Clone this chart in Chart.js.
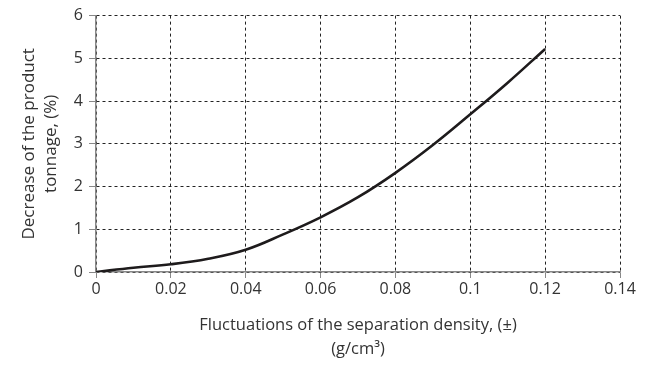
<!DOCTYPE html>
<html>
<head>
<meta charset="utf-8">
<script src="https://cdn.jsdelivr.net/npm/chart.js@4/dist/chart.umd.min.js"></script>
<style>
  html, body { margin: 0; padding: 0; background: #fff; }
  #wrap { width: 650px; height: 365px; }
</style>
</head>
<body>
<div id="wrap"><canvas id="chart" width="650" height="365"></canvas></div>
<script>
// Datos
const densityFluct = [0, 0.01, 0.02, 0.03, 0.04, 0.05, 0.06, 0.07, 0.08, 0.09, 0.1, 0.11, 0.12];
const tonnageDecrease = [0, 0.1, 0.18, 0.31, 0.52, 0.88, 1.28, 1.75, 2.32, 2.97, 3.69, 4.43, 5.22];
const xTicks = [0, 0.02, 0.04, 0.06, 0.08, 0.1, 0.12, 0.14];
const yTicks = [0, 1, 2, 3, 4, 5, 6];

const fontName = '"Open Sans", "Noto Sans", sans-serif';
const textColor = '#333';

const points = densityFluct.map((x, i) => ({ x: x, y: tonnageDecrease[i] }));

new Chart(document.getElementById('chart'), {
    type: 'line',
    data: {
        datasets: [{
            data: points,
            borderColor: '#1e1b1c',
            borderWidth: 2.6,
            pointRadius: 0,
            fill: false,
            tension: 0.4
        }]
    },
    options: {
        responsive: false,
        animation: false,
        layout: { padding: { top: 0, right: 30, bottom: 4, left: 18 } },
        plugins: { legend: { display: false }, tooltip: { enabled: false } },
        scales: {
            x: {
                type: 'linear',
                min: 0,
                max: 0.14,
                afterBuildTicks: (axis) => { axis.ticks = xTicks.map(v => ({ value: v })); },
                afterFit: (axis) => { axis.height = 89; },
                ticks: {
                    color: textColor,
                    font: { family: fontName, size: 16 },
                    padding: 2,
                    maxRotation: 0,
                    callback: (v) => String(v)
                },
                grid: {
                    color: '#222',
                    lineWidth: 1,
                    tickLength: 6,
                    tickColor: '#888',
                    tickBorderDash: []
                },
                border: { color: '#888', width: 1.5, dash: [3, 3] },
                title: {
                    display: true,
                    text: ['Fluctuations of the separation density, (±)', '(g/cm³)'],
                    color: textColor,
                    font: { family: fontName, size: 16.5, lineHeight: 1.45 },
                    padding: { top: 2, bottom: 0 }
                }
            },
            y: {
                min: 0,
                max: 6,
                afterBuildTicks: (axis) => { axis.ticks = yTicks.map(v => ({ value: v })); },
                afterFit: (axis) => { axis.width = 78; },
                ticks: {
                    color: textColor,
                    font: { family: fontName, size: 16 },
                    padding: 6
                },
                grid: {
                    color: '#222',
                    lineWidth: 1,
                    tickLength: 7,
                    tickColor: '#888',
                    tickBorderDash: []
                },
                border: { color: '#888', width: 1.5, dash: [3, 3] },
                title: {
                    display: true,
                    text: ['Decrease of the product', 'tonnage, (%)'],
                    color: textColor,
                    font: { family: fontName, size: 17, lineHeight: 1.3 },
                    padding: { top: 0, bottom: 4 }
                }
            }
        }
    }
});
</script>
</body>
</html>
